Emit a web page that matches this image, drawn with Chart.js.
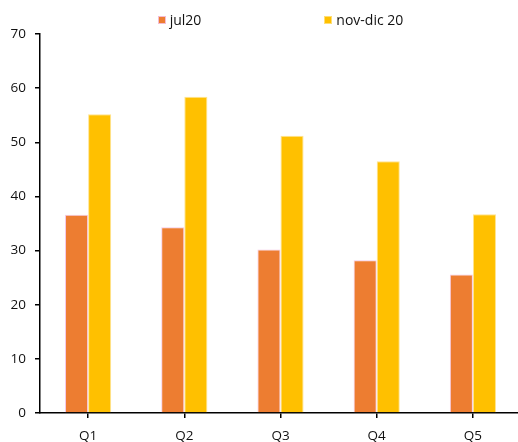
<!DOCTYPE html>
<html>
<head>
<meta charset="utf-8">
<script src="https://cdn.jsdelivr.net/npm/chart.js@4"></script>
<style>
  html, body { margin: 0; padding: 0; background: #fff; overflow: hidden; }
  #wrap { position: relative; width: 522px; height: 442px; }
  #legend {
    position: absolute; top: 10px; left: 40px; width: 481px;
    display: flex; justify-content: center; gap: 123px;
    font: 14px 'Open Sans', sans-serif; color: #111;
  }
  .item { display: flex; align-items: center; }
  .sw { width: 8px; height: 8px; margin-right: 4px; box-sizing: border-box; }
  canvas { display: block; }
</style>
</head>
<body>
<div id="wrap">
  <div id="legend"></div>
  <canvas id="c" width="522" height="442" style="width:522px;height:442px"></canvas>
</div>
<script>
// Quintile categories and the two survey waves
const categories = ['Q1', 'Q2', 'Q3', 'Q4', 'Q5'];
const seriesNames = ['jul20', 'nov-dic 20'];
const jul20 = [36.6, 34.3, 30.2, 28.2, 25.6];
const novDic20 = [55.2, 58.4, 51.2, 46.5, 36.7];
const yTicks = [0, 10, 20, 30, 40, 50, 60, 70];

const colors = ['#ED7D31', '#FFC000'];
const edges = ['rgba(244,195,228,0.9)', 'rgba(255,225,130,0.9)'];

const datasets = [jul20, novDic20].map((vals, i) => ({
  label: seriesNames[i],
  data: vals,
  backgroundColor: colors[i],
  borderColor: edges[i],
  borderWidth: 1,
  categoryPercentage: 0.48,
  barPercentage: 1.0
}));

// Simple legend row above the plot
const legend = document.getElementById('legend');
datasets.forEach(ds => {
  const item = document.createElement('div');
  item.className = 'item';
  const sw = document.createElement('span');
  sw.className = 'sw';
  sw.style.background = ds.backgroundColor;
  sw.style.border = '1px solid ' + ds.borderColor;
  const tx = document.createElement('span');
  tx.textContent = ds.label;
  item.appendChild(sw);
  item.appendChild(tx);
  legend.appendChild(item);
});

const tickFont = { family: "'Open Sans', sans-serif", size: 13.5 };

new Chart(document.getElementById('c'), {
  type: 'bar',
  data: { labels: categories, datasets },
  options: {
    responsive: false,
    animation: false,
    layout: { padding: { top: 34, right: 1, left: 0, bottom: 0 } },
    plugins: { legend: { display: false }, tooltip: { enabled: false } },
    scales: {
      x: {
        offset: true,
        grid: { display: true, drawOnChartArea: false, drawTicks: true, tickLength: 5, color: '#000', offset: false, lineWidth: 1.5 },
        border: { display: true, color: '#000', width: 1.5 },
        ticks: { color: '#111', font: tickFont, padding: 10, maxRotation: 0 },
        afterFit: s => { s.height = 29; }
      },
      y: {
        min: yTicks[0],
        max: yTicks[yTicks.length - 1],
        afterBuildTicks: s => { s.ticks = yTicks.map(v => ({ value: v })); },
        grid: { display: true, drawOnChartArea: false, drawTicks: true, tickLength: 5, color: '#000', lineWidth: 1.5 },
        border: { display: true, color: '#000', width: 1.5 },
        ticks: { color: '#111', font: tickFont, padding: 9 },
        afterFit: s => { s.width = 40; }
      }
    }
  }
});
</script>
</body>
</html>
